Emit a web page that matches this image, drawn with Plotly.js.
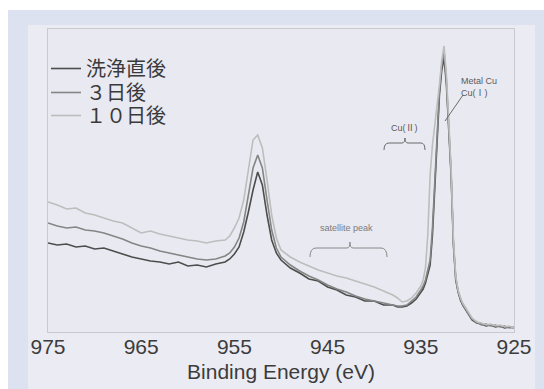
<!DOCTYPE html>
<html>
<head>
<meta charset="utf-8">
<script src="https://cdn.plot.ly/plotly-3.0.1.min.js"></script>
<style>html,body{margin:0;padding:0;background:#fff;}#chart{width:544px;height:389px;}</style>
</head>
<body>
<div id="chart"></div>
<script>
// Binding energy (eV)
const energy = [975,974,973,972,971,970,969,968,967,966,965,964,963,962,961,960,959,958,957,956,
  955.5,955,954.5,954,953.5,953,952.5,952,951.5,951,950.5,950,
  949,948,947,946,945,944,943,942,941,940,939,938,
  937.5,937,936.5,936,935.5,935,
  934.75,934.5,934.25,934,933.75,933.5,933.25,933,932.75,932.5,932.25,932,931.75,931.5,931.25,931,930.75,
  930.5,930,929.5,929,928.5,928,927.5,927,926.5,926,925.5,925];

// Intensity (arb. units)
const washed = [89,87,88,85,86,83,84,81,78,75,73,71,70,68,70,66,67,65,68,70,
  73,78,85,100,120,142,160,147,117,92,79,72,
  64,59,53,51,45,42,37,35,31,31,27,27,
  25,25,26,29,33,39,
  43,49,57,67,97,147,197,237,262,274,247,207,157,87,52,40,32,
  27,19,12,9,8,6,7,5,6,4,5,4];

const day3 = [109,106,104,105,102,101,99,96,93,89,86,84,81,79,77,75,73,72,73,76,
  79,85,94,110,137,164,177,164,132,102,84,75,
  67,61,56,52,47,43,40,36,33,31,29,27,
  26,26,27,31,35,42,
  46,52,61,72,104,154,204,242,267,280,252,212,160,89,54,41,33,
  27,20,13,10,7,8,6,7,5,6,4,5];

const day10 = [130,127,123,124,119,117,114,111,109,104,99,101,98,96,94,92,91,89,91,92,
  96,104,114,132,162,192,197,184,152,117,94,82,
  75,70,66,62,59,56,54,51,48,45,41,37,
  34,30,31,34,39,46,
  52,64,97,157,187,207,222,247,272,286,257,214,164,92,56,42,34,
  29,21,14,10,9,7,8,6,7,5,6,4];

const seriesNames = ['洗浄直後', '３日後', '１０日後'];
const seriesValues = [washed, day3, day10];
const seriesColors = ['#4d4d4d', '#858585', '#bdbdbd'];
const xTicks = [975, 965, 955, 945, 935, 925];
const legendIds = ['legend', 'legend2', 'legend3'];

const traces = seriesValues.map((vals, i) => ({
  type: 'scatter', mode: 'lines',
  x: energy, y: vals, name: seriesNames[i], legend: legendIds[i],
  line: {color: seriesColors[i], width: 1.6}
}));

// helpers for paper coords from pixel positions (plot area 48..514 x, 29..332 y)
const L = 48, R = 30, T = 29, B = 57, W = 544, H = 389;
const pw = W - L - R, ph = H - T - B;
const px = p => (p - L) / pw;
const py = p => (H - B - p) / ph;

const legendStyle = top => ({
  x: px(46), y: py(top), xanchor: 'left', yanchor: 'top',
  bgcolor: 'rgba(0,0,0,0)', borderwidth: 0,
  font: {family: 'Liberation Sans, Noto Sans CJK JP', size: 20, color: '#3a3a3a'},
  itemwidth: 30
});

const layout = {
  width: W, height: H,
  margin: {l: L, r: R, t: T, b: B, pad: 0},
  paper_bgcolor: '#dce2ef',
  plot_bgcolor: '#eaeaf2',
  showlegend: true,
  legend: legendStyle(49),
  legend2: legendStyle(73),
  legend3: legendStyle(96),
  xaxis: {
    range: [975, 925], tickvals: xTicks, ticktext: xTicks.map(String),
    showgrid: false, zeroline: false, ticks: '', ticklabelstandoff: -4,
    showline: true, mirror: true, linecolor: '#c9c9d2', linewidth: 1,
    tickfont: {family: 'Liberation Sans, Arial, sans-serif', size: 21, color: '#3c3c3c'},
    title: {text: 'Binding Energy (eV)', standoff: 7,
      font: {family: 'Liberation Sans, Arial, sans-serif', size: 21, color: '#3c3c3c'}}
  },
  yaxis: {
    range: [0, 303], showticklabels: false, showgrid: false, zeroline: false, ticks: '',
    showline: true, mirror: true, linecolor: '#c9c9d2', linewidth: 1
  },
  shapes: [
    {type: 'rect', xref: 'paper', yref: 'paper', layer: 'below', line: {width: 0}, fillcolor: '#ffffff',
      x0: px(0), x1: px(544), y0: py(0), y1: py(10)},
    {type: 'rect', xref: 'paper', yref: 'paper', layer: 'below', line: {width: 0}, fillcolor: '#ffffff',
      x0: px(0), x1: px(8), y0: py(0), y1: py(389)},
    {type: 'rect', xref: 'paper', yref: 'paper', layer: 'below', line: {width: 0}, fillcolor: '#ebebf3',
      x0: px(28), x1: px(535), y0: py(25), y1: py(389)},
    {type: 'rect', xref: 'paper', yref: 'paper', layer: 'below', line: {width: 0}, fillcolor: '#e9e9f1',
      x0: 0, x1: 1, y0: 0, y1: 1},
    // leader line for Metal Cu / Cu(I)
    {type: 'line', xref: 'x', yref: 'y', x0: 930.47, y0: 237, x1: 932.4, y1: 211,
      line: {color: '#6a6a6a', width: 1}},
    // brace for Cu(II)
    {type: 'path', xref: 'x', yref: 'y', line: {color: '#6a6a6a', width: 1},
      path: 'M938.95,182 Q938.95,189 938.41,189 L937.02,189 Q936.70,189 936.70,194 Q936.70,189 936.37,189 L934.98,189 Q934.55,189 934.55,182'},
    // brace for satellite peak
    {type: 'path', xref: 'x', yref: 'y', line: {color: '#8a8a8a', width: 1},
      path: 'M946.89,75 Q946.89,84 946.24,84 L942.92,84 Q942.60,84 942.60,90 Q942.60,84 942.27,84 L939.27,84 Q938.63,84 938.63,75'}
  ],
  annotations: [
    {x: 930.9, y: 245.5, xref: 'x', yref: 'y', xanchor: 'left', yanchor: 'middle', align: 'left',
      text: 'Metal Cu<br>Cu(Ⅰ)', showarrow: false,
      font: {family: 'Liberation Sans, Noto Sans CJK JP, sans-serif', size: 9, color: '#5a5a5a'}},
    {x: 936.8, y: 204, xref: 'x', yref: 'y', xanchor: 'center', yanchor: 'middle',
      text: 'Cu(Ⅱ)', showarrow: false,
      font: {family: 'Liberation Sans, Noto Sans CJK JP, sans-serif', size: 9, color: '#5a5a5a'}},
    {x: 943.0, y: 104, xref: 'x', yref: 'y', xanchor: 'center', yanchor: 'middle',
      text: 'satellite peak', showarrow: false,
      font: {family: 'Liberation Sans, sans-serif', size: 9, color: '#7a7a7a'}}
  ]
};

Plotly.newPlot('chart', traces, layout, {displayModeBar: false, staticPlot: true});
</script>
</body>
</html>
